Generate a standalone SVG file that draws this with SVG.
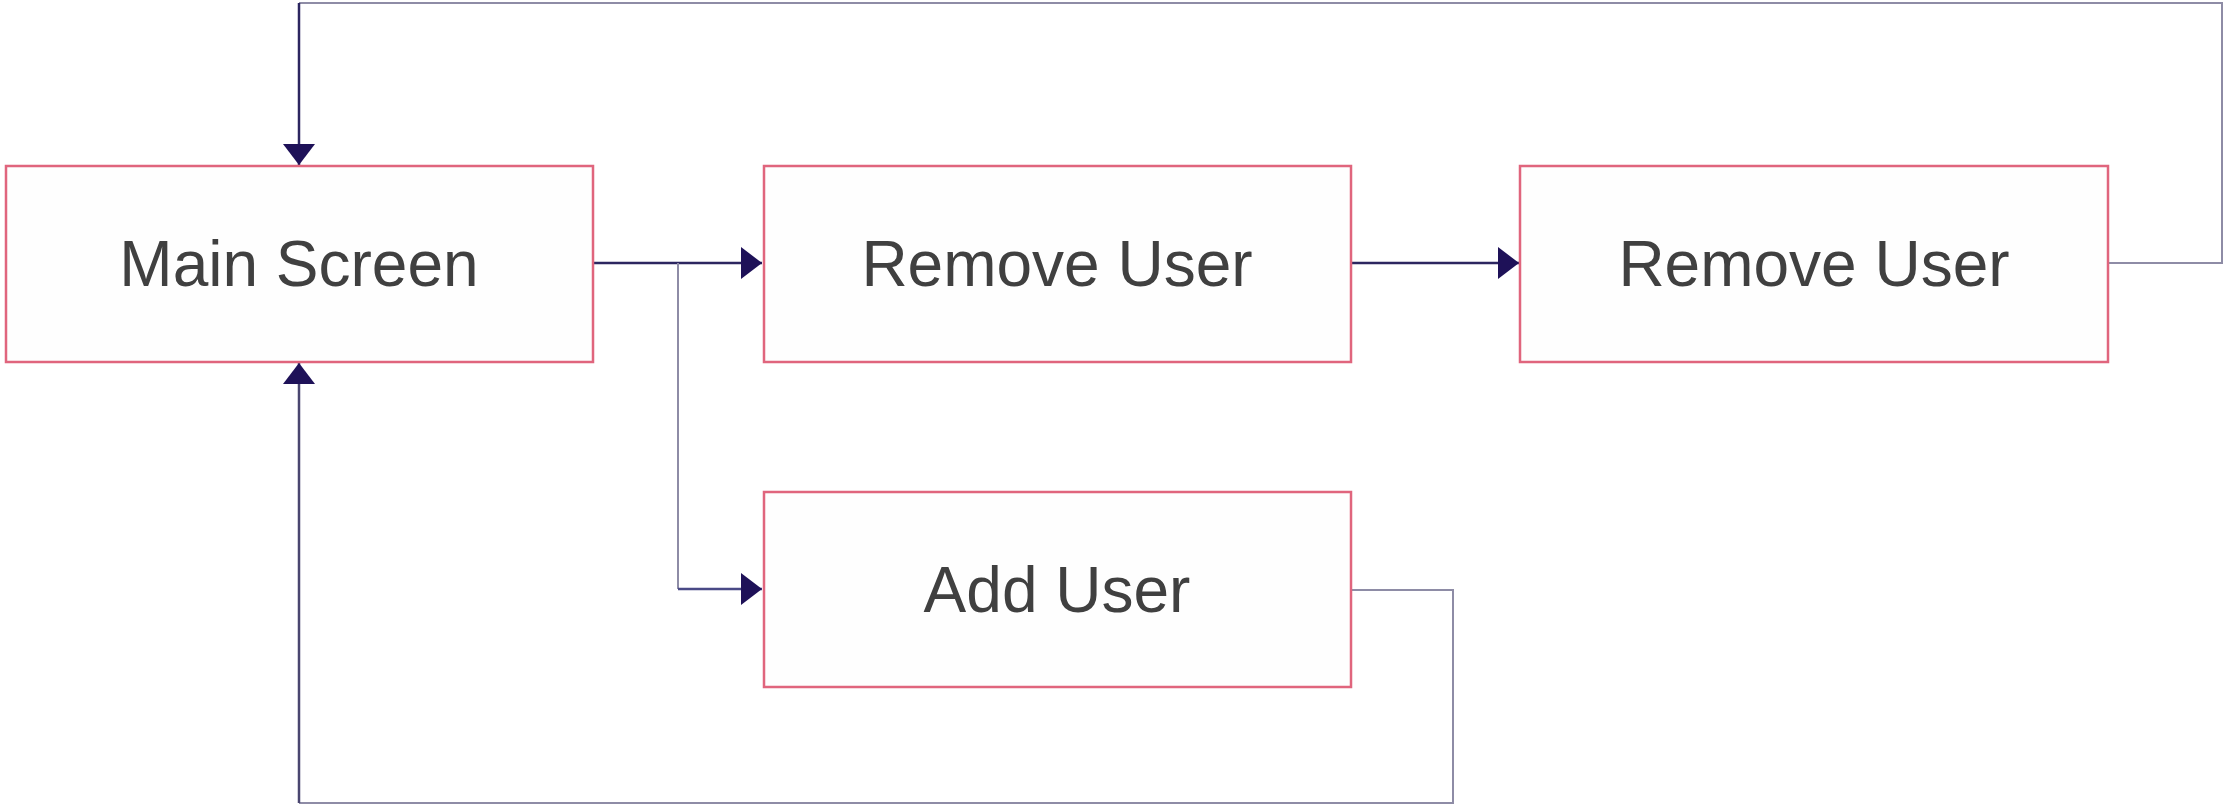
<svg xmlns="http://www.w3.org/2000/svg" width="2228" height="806" viewBox="0 0 2228 806">
<style>
.box{fill:#fefefe;stroke:#e0657d;stroke-width:2.5}
.lbl{font-family:"Liberation Sans",Arial,sans-serif;font-size:64px;fill:#404040;text-anchor:middle;dominant-baseline:central}
.dark{fill:none;stroke:#2c2660;stroke-width:2.5}
.grey{fill:none;stroke:#8e8ca6;stroke-width:2}
</style>
<defs>
<marker id="ah" markerUnits="userSpaceOnUse" markerWidth="22" markerHeight="34" refX="21" refY="16" orient="auto" viewBox="0 0 22 32">
<path d="M0,0 L21,16 L0,32 Z" fill="#1e1158"/>
</marker>
</defs>
<rect width="2228" height="806" fill="#ffffff"/>
<g id="connectors">
<path class="dark" d="M593,263 H762" marker-end="url(#ah)"/>
<path class="grey" d="M678,263 V589"/>
<path class="dark" d="M678,589 H762" marker-end="url(#ah)" style="stroke:#4a4a86"/>
<path class="dark" d="M1351,263 H1519" marker-end="url(#ah)"/>
<path class="grey" d="M2108,263 H2222 V3 H299"/>
<path class="dark" d="M299,3 V165" marker-end="url(#ah)"/>
<path class="grey" d="M1351,590 H1453 V803 H299"/>
<path class="dark" d="M299,803 V363" marker-end="url(#ah)" style="stroke:#4a4670"/>
</g>
<g id="main-screen">
<rect class="box" x="6" y="166" width="587" height="196"/>
<text class="lbl" x="299" y="264">Main Screen</text>
</g>
<g id="remove-user-1">
<rect class="box" x="764" y="166" width="587" height="196"/>
<text class="lbl" x="1057" y="264">Remove User</text>
</g>
<g id="remove-user-2">
<rect class="box" x="1520" y="166" width="588" height="196"/>
<text class="lbl" x="1814" y="264">Remove User</text>
</g>
<g id="add-user">
<rect class="box" x="764" y="492" width="587" height="195"/>
<text class="lbl" x="1057" y="590">Add User</text>
</g>
</svg>
